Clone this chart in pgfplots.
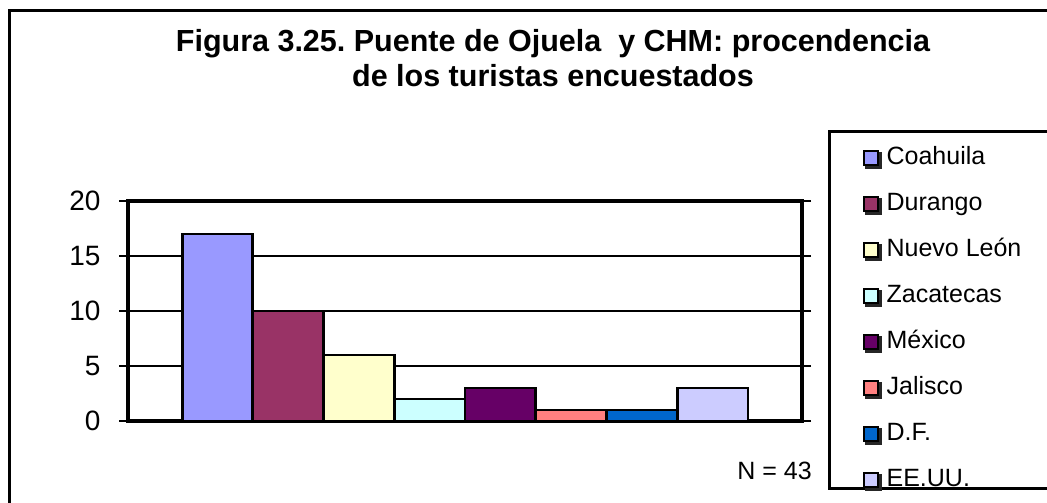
\documentclass[border=0pt]{standalone}
\usepackage{pgfplots}
\pgfplotsset{compat=1.18}
\usepackage{fontspec}
\setmainfont{Liberation Sans}
\frenchspacing
\definecolor{cCoa}{HTML}{9999FF}
\definecolor{cDur}{HTML}{993366}
\definecolor{cNL}{HTML}{FFFFCC}
\definecolor{cZac}{HTML}{CCFFFF}
\definecolor{cMex}{HTML}{660066}
\definecolor{cJal}{HTML}{FF8080}
\definecolor{cDF}{HTML}{0066CC}
\definecolor{cEU}{HTML}{CCCCFF}
\begin{document}
\begin{tikzpicture}[x=1pt,y=1pt]
\useasboundingbox (0,0) rectangle (1047,503);
\clip (0,0) rectangle (1047,503);
\fill[white] (0,0) rectangle (1047,503);
% outer frame
\draw[line width=3pt] (9,-20) -- (9,492) -- (1070,492);
% legend frame
\draw[line width=3pt] (1070,371) -- (829,371) -- (829,14) -- (1070,14);
% title
\node[anchor=base, font=\fontsize{30.5}{36}\selectfont\bfseries, inner sep=0pt] at (553,451) {Figura 3.25. Puente de Ojuela \ y CHM: procendencia};
\node[anchor=base, font=\fontsize{30.5}{36}\selectfont\bfseries, inner sep=0pt] at (553,416) {de los turistas encuestados};
\node[anchor=base east, font=\fontsize{25}{30}\selectfont, inner sep=0pt] at (812,23) {N = 43};
\begin{axis}[
  at={(128pt,82pt)}, anchor=south west,
  width=674pt, height=220pt, scale only axis,
  xmin=-1.265, xmax=8.265, ymin=0, ymax=20,
  xtick=\empty,
  ytick={0,5,10,15,20},
  tick align=outside,
  major tick length=9pt,
  ytick style={line width=2.5pt, black},
  y tick label style={font=\fontsize{28}{32}\selectfont, xshift=-15pt},
  /pgf/number format/assume math mode=true,
  ymajorgrids,
  grid style={line width=2.5pt, black},
  axis line style={line width=3.5pt},
  legend style={at={(1.0905,1.2478)}, anchor=north west, draw=none, fill=none,
    inner sep=0pt, row sep=23pt, column sep=5pt,
    font=\fontsize{25}{30}\selectfont,
    nodes={inner xsep=0pt, inner ysep=0pt, text height=18pt, text depth=5pt}},
  legend cell align=left,
  legend image code/.code={
    \fill[black!85] (2pt,-9pt) rectangle (16pt,5pt);
    \draw[#1, draw=black, line width=2pt] (0pt,-7pt) rectangle (14pt,7pt);
  },
  every axis plot/.append style={ybar, bar width=1, bar shift=0pt, draw=black, line width=2.8pt},
]
\addplot[fill=cCoa] coordinates {(0,17)}; \addlegendentry{Coahuila}
\addplot[fill=cDur] coordinates {(1,10)}; \addlegendentry{Durango}
\addplot[fill=cNL] coordinates {(2,6)}; \addlegendentry{Nuevo León}
\addplot[fill=cZac] coordinates {(3,2)}; \addlegendentry{Zacatecas}
\addplot[fill=cMex] coordinates {(4,3)}; \addlegendentry{México}
\addplot[fill=cJal] coordinates {(5,1)}; \addlegendentry{Jalisco}
\addplot[fill=cDF] coordinates {(6,1)}; \addlegendentry{D.F.}
\addplot[fill=cEU] coordinates {(7,3)}; \addlegendentry{EE.UU.}
\end{axis}
\end{tikzpicture}
\end{document}
